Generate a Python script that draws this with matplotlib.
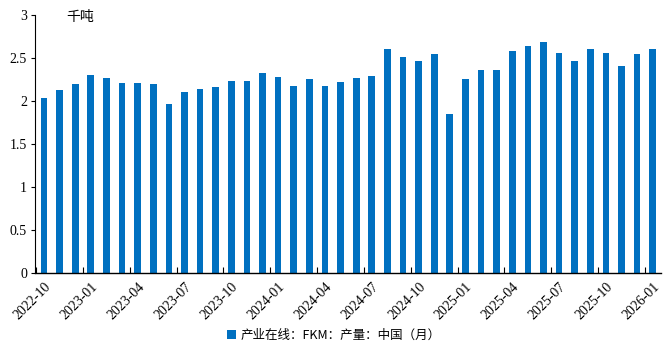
import numpy as np
import matplotlib
matplotlib.use('Agg')
import matplotlib.pyplot as plt
from matplotlib.ticker import FixedLocator

months = []
y, m = 2022, 10
for i in range(40):
    months.append('%d-%02d' % (y, m))
    m += 1
    if m > 12:
        m = 1
        y += 1

values = [2.035, 2.128, 2.19, 2.305, 2.267, 2.209, 2.209, 2.20, 1.965, 2.108,
          2.143, 2.162, 2.235, 2.235, 2.328, 2.282, 2.17, 2.259, 2.17, 2.224,
          2.267, 2.29, 2.603, 2.51, 2.46, 2.541, 1.849, 2.25, 2.36, 2.36,
          2.584, 2.642, 2.685, 2.557, 2.46, 2.603, 2.561, 2.41, 2.549, 2.603]

series_name = '产业在线：FKM：产量：中国（月）'
unit = '千吨'

plt.rcParams['font.family'] = ['Liberation Serif', 'Noto Sans CJK SC', 'DejaVu Sans']

fig = plt.figure(figsize=(6.68, 3.51), dpi=100)
ax = fig.add_axes([0.053, 0.222, 0.937, 0.736])

x = np.arange(len(values))
ax.bar(x, values, width=0.43, color='#0070C0', label=series_name)

ax.set_xlim(-0.55, len(values) - 0.45)
ax.set_ylim(0, 3)
ax.set_yticks([0, 0.5, 1, 1.5, 2, 2.5, 3])
ax.set_yticklabels(['0', '0.5', '1', '1.5', '2', '2.5', '3'], fontsize=10)

lab_idx = list(range(0, len(values), 3))
ax.set_xticks(lab_idx)
ax.set_xticklabels([months[i] for i in lab_idx], rotation=45, ha='right',
                   rotation_mode='anchor', fontsize=10)
ax.tick_params(axis='x', which='major', length=0, pad=5)
ax.xaxis.set_minor_locator(FixedLocator([i - 0.5 for i in lab_idx]))
ax.tick_params(axis='x', which='minor', direction='in', length=4, width=0.8)
ax.tick_params(axis='y', direction='out', length=3, width=0.8, pad=3)

for s in ['top', 'right']:
    ax.spines[s].set_visible(False)
ax.spines['left'].set_linewidth(0.8)
ax.spines['bottom'].set_linewidth(1.0)

ax.text(0.05, 1.02, unit, transform=ax.transAxes, fontsize=10,
        family=['Noto Sans CJK SC'], va='top', ha='left')

fig.legend(loc='lower center', bbox_to_anchor=(0.5, -0.005), ncol=1, frameon=False,
           prop={'family': ['Noto Sans CJK SC', 'DejaVu Sans'], 'size': 9},
           handlelength=0.7, handleheight=0.7, handletextpad=0.4)

fig.savefig('out.png', dpi=100)
